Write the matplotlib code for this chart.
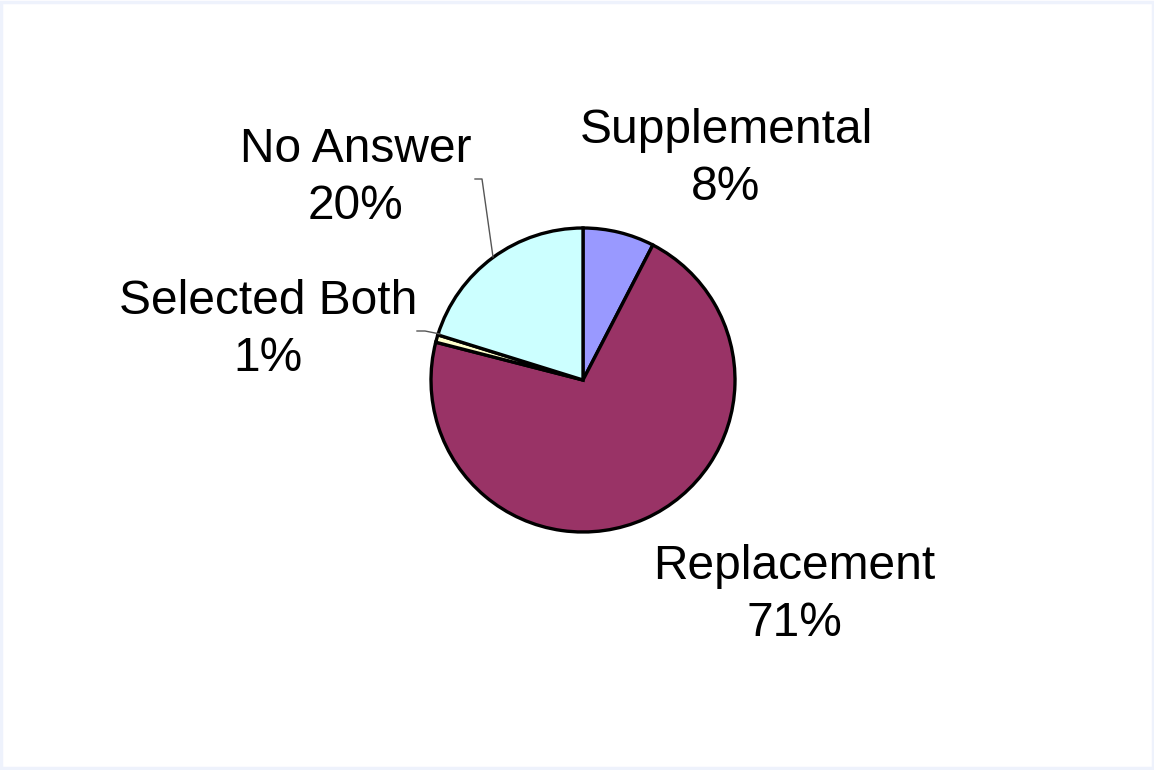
import matplotlib.pyplot as plt
from matplotlib.patches import Rectangle

# Survey answers, percent of respondents
categories = ['Supplemental', 'Replacement', 'Selected Both', 'No Answer']
shares = [7.6, 71.4, 0.8, 20.2]
colors = ['#9999FF', '#993366', '#FFFFCC', '#CCFFFF']

W, H = 1154, 770
fig = plt.figure(figsize=(W / 100, H / 100), dpi=100)
ax = fig.add_axes([0, 0, 1, 1])

# pie drawn in pixel-like data coordinates (y measured from bottom)
cx, cy, r = 583, H - 380, 152
ax.pie(shares, colors=colors, startangle=90, counterclock=False,
       center=(cx, cy), radius=r,
       wedgeprops=dict(edgecolor='black', linewidth=2.4))

ax.set_xlim(0, W)
ax.set_ylim(0, H)
ax.set_aspect('equal')
ax.axis('off')

# label placements (block centres) for each slice
label_pos = {
    'Supplemental': (726, H - 159),
    'Replacement': (794, H - 595),
    'Selected Both': (268, H - 330),
    'No Answer': (356, H - 178),
}
for name, val in zip(categories, shares):
    x, y = label_pos[name]
    ax.text(x, y, f'{name}\n{val:.0f}%', ha='center', va='center',
            multialignment='center', fontsize=34.5,
            family=['Liberation Sans', 'DejaVu Sans'], linespacing=1.36)

# leader lines for the two small-label slices
ax.plot([475, 482, 493], [H - 179, H - 179, H - 257], color='#555555', lw=1.0)
ax.plot([417, 425, 440], [H - 331, H - 331, H - 334], color='#555555', lw=1.0)

# thin pale frame around the chart area
fig.patches.append(Rectangle((0.001, 0.002), 0.998, 0.995, transform=fig.transFigure,
                             fill=False, edgecolor='#EEF2FC', lw=2.5))

fig.savefig('out.png', dpi=100, facecolor='white')
